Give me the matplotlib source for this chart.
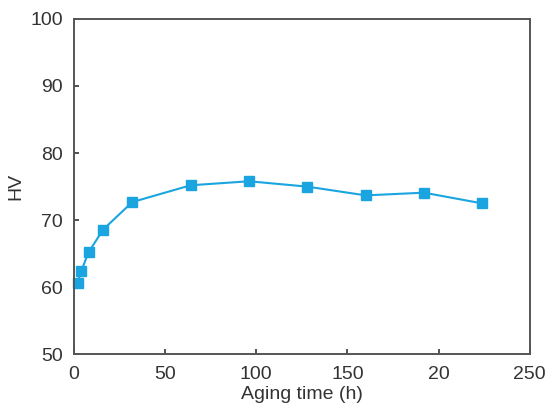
import matplotlib
matplotlib.use("Agg")
import matplotlib.pyplot as plt

aging_time = [2, 4, 8, 16, 32, 64, 96, 128, 160, 192, 224]
hv = [60.7, 62.4, 65.2, 68.6, 72.7, 75.2, 75.8, 75.0, 73.7, 74.1, 72.5]
x_ticks = [0, 50, 100, 150, 200, 250]
x_tick_labels = ["0", "50", "100", "150", "20", "250"]
y_ticks = [50, 60, 70, 80, 90, 100]

plt.rcParams['font.family'] = ['Liberation Sans', 'DejaVu Sans']

fig = plt.figure(figsize=(5.6, 4.18), dpi=100)
ax = fig.add_axes([0.132, 0.152, 0.814, 0.803])
color = '#1aa5e0'
ax.plot(aging_time, hv, color=color, lw=1.5, marker='s', markersize=6.5,
        markerfacecolor=color, markeredgecolor=color, clip_on=False)
ax.set_xlim(0, 250)
ax.set_ylim(50, 100)
ax.set_xticks(x_ticks)
ax.set_xticklabels(x_tick_labels)
ax.set_yticks(y_ticks)
ax.tick_params(direction='in', length=3.5, width=1.2, labelsize=14, colors='#333333',
               top=False, right=False)
ax.tick_params(axis='x', pad=8)
ax.tick_params(axis='y', pad=8)
for s in ax.spines.values():
    s.set_color('#555555')
    s.set_linewidth(1.4)
ax.set_xlabel('Aging time (h)', fontsize=14, color='#333333', labelpad=2.5)
ax.set_ylabel('HV', fontsize=14, color='#333333', labelpad=4)
fig.savefig('out.png', dpi=100)
